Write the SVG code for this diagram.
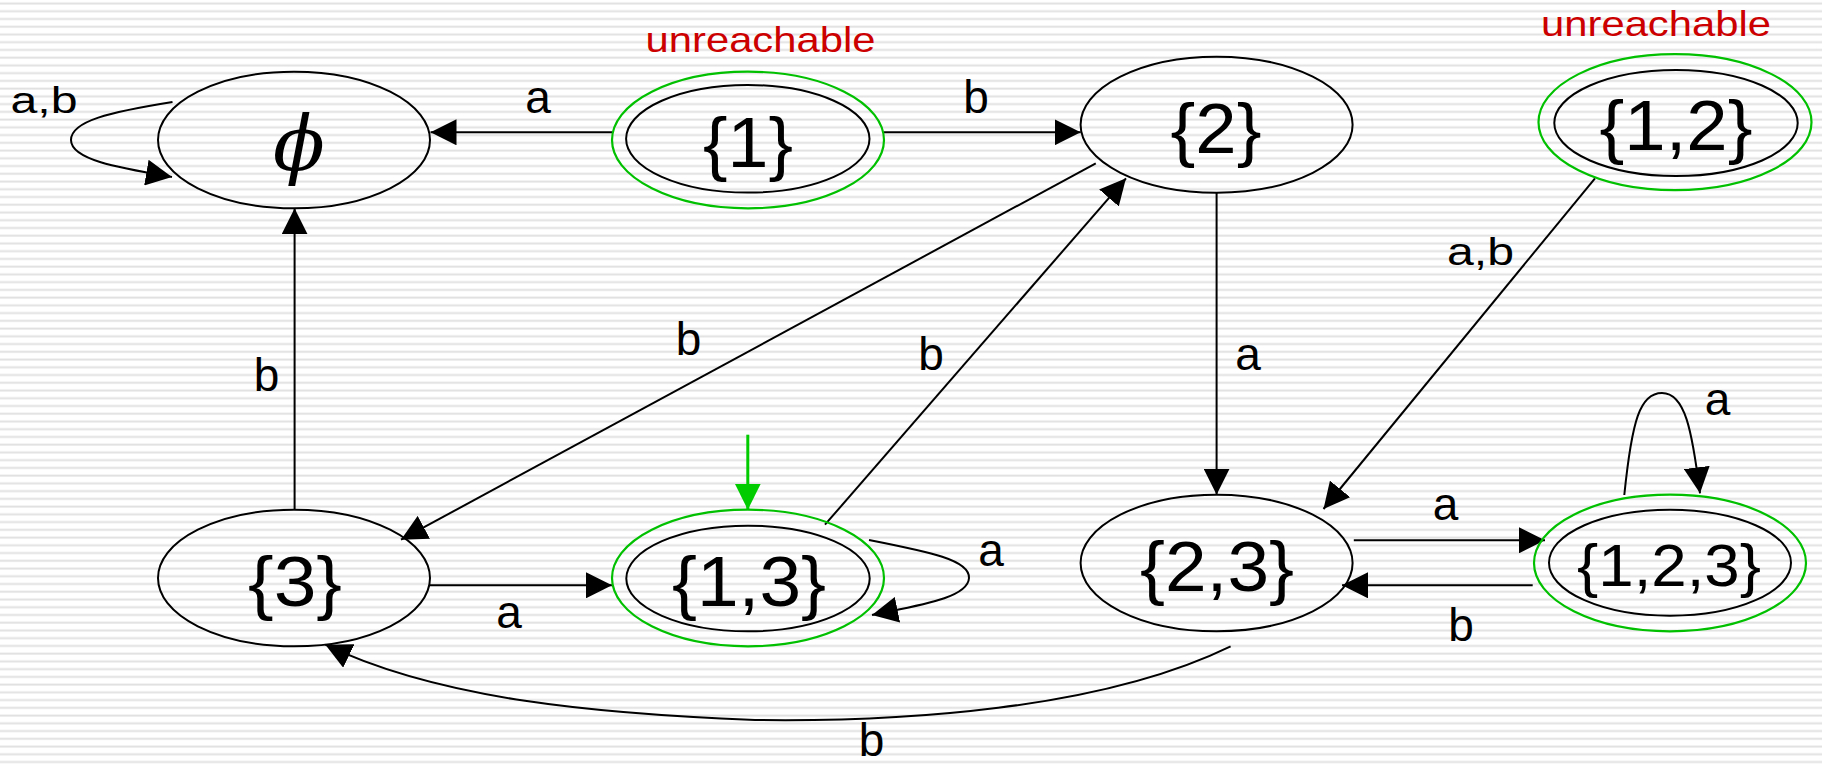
<svg xmlns="http://www.w3.org/2000/svg" width="1822" height="766" viewBox="0 0 1822 766">
<style>
.st{fill:none;stroke:#000;stroke-width:2}
.ac{fill:#fff;fill-opacity:0;stroke:#00c000;stroke-width:2.2}
.nl{font-family:"Liberation Sans",Arial,sans-serif;font-size:70px;fill:#000;text-anchor:middle}
.el{font-family:"Liberation Sans",Arial,sans-serif;font-size:46px;fill:#000;text-anchor:middle}
.ur{font-family:"Liberation Sans",Arial,sans-serif;font-size:35px;fill:#cc0000;text-anchor:middle}
.cn{fill:none;stroke:#000;stroke-width:2}
</style>
<defs>
<pattern id="stripes" patternUnits="userSpaceOnUse" x="0" y="0" width="20" height="7.74">
<rect x="0" y="0" width="20" height="7.74" fill="#ffffff"/>
<rect x="0" y="2.6" width="20" height="1.1" fill="#d9d9d9"/>
<rect x="0" y="3.7" width="20" height="1.1" fill="#ececec"/>
</pattern>
<marker id="ah" markerUnits="userSpaceOnUse" viewBox="0 0 26 26" markerWidth="26" markerHeight="26" refX="26" refY="13" orient="auto">
<path d="M0,0L26,13L0,26z" fill="#000"/>
</marker>
<marker id="ahg" markerUnits="userSpaceOnUse" viewBox="0 0 26 26" markerWidth="26" markerHeight="26" refX="26" refY="13" orient="auto">
<path d="M0,0L26,13L0,26z" fill="#00cc00"/>
</marker>
</defs>
<rect x="0" y="0" width="1822" height="766" fill="url(#stripes)"/>

<g id="connectors">
<path class="cn" d="M172.5,102 C110,112 71,121 71,140 C71,160 120,168 172,177" marker-end="url(#ah)"/>
<path class="cn" d="M612,132.3 L430.5,132.3" marker-end="url(#ah)"/>
<path class="cn" d="M884,132.3 L1080.7,132.3" marker-end="url(#ah)"/>
<path class="cn" d="M294.6,509.7 L294.6,208.3" marker-end="url(#ah)"/>
<path class="cn" d="M1095.8,163.3 L401,539.7" marker-end="url(#ah)"/>
<path class="cn" d="M825,524.7 L1126,178.3" marker-end="url(#ah)"/>
<path class="cn" d="M1216.6,192.7 L1216.6,494.7" marker-end="url(#ah)"/>
<path class="cn" d="M1595,178.3 L1323.5,509" marker-end="url(#ah)"/>
<path class="cn" d="M430,585.3 L612,585.3" marker-end="url(#ah)"/>
<path class="cn" d="M869,540 C930,552 970,560 969,578 C968,598 920,605 872,615" marker-end="url(#ah)"/>
<path class="cn" d="M1353.8,540.3 L1545,540.3" marker-end="url(#ah)"/>
<path class="cn" d="M1532.7,585.3 L1342,585.3" marker-end="url(#ah)"/>
<path class="cn" d="M1624.3,495 C1632,420 1640,393 1662,393 C1685,393 1692,430 1700,493.3" marker-end="url(#ah)"/>
<path class="cn" d="M1230.6,646.3 C1100,710 900,722 755,720 C600,714 440,700 325.4,644.7" marker-end="url(#ah)"/>
<path d="M747.8,434.7 L747.8,509.7" fill="none" stroke="#00cc00" stroke-width="3" marker-end="url(#ahg)"/>
<g id="edge-labels">
<text class="el" x="44" y="112.7" style="font-size:37px" textLength="67" lengthAdjust="spacingAndGlyphs">a,b</text>
<text class="el" x="538" y="113.3">a</text>
<text class="el" x="976" y="113">b</text>
<text class="el" x="266.5" y="391">b</text>
<text class="el" x="688.5" y="355">b</text>
<text class="el" x="931" y="370">b</text>
<text class="el" x="1248" y="370">a</text>
<text class="el" x="1480.5" y="265" style="font-size:38px" textLength="67" lengthAdjust="spacingAndGlyphs">a,b</text>
<text class="el" x="509" y="628">a</text>
<text class="el" x="991" y="566">a</text>
<text class="el" x="1445.5" y="520">a</text>
<text class="el" x="1461" y="641">b</text>
<text class="el" x="1717.5" y="415">a</text>
<text class="el" x="871.5" y="756">b</text>
</g>
</g>

<g id="node-empty">
<ellipse class="st" cx="294" cy="140" rx="136" ry="68.3"/>
<text x="299" y="170" style="font-family:'DejaVu Serif',serif;font-style:italic;font-size:76px;text-anchor:middle">ϕ</text>
</g>
<g id="node-1">
<text class="ur" x="760.5" y="52.3" textLength="230" lengthAdjust="spacingAndGlyphs">unreachable</text>
<ellipse class="ac" cx="748" cy="140" rx="136" ry="68.3"/>
<ellipse class="st" cx="747.8" cy="138.8" rx="121.7" ry="53.8"/>
<text class="nl" x="748" y="167.3" textLength="90" lengthAdjust="spacingAndGlyphs">{1}</text>
</g>
<g id="node-2">
<ellipse class="st" cx="1216.6" cy="124.7" rx="136" ry="68"/>
<text class="nl" x="1216" y="153.3" textLength="91" lengthAdjust="spacingAndGlyphs">{2}</text>
</g>
<g id="node-12">
<text class="ur" x="1656" y="36" textLength="230" lengthAdjust="spacingAndGlyphs">unreachable</text>
<ellipse class="ac" cx="1675" cy="122.2" rx="136.5" ry="68"/>
<ellipse class="st" cx="1676" cy="123" rx="121.7" ry="53"/>
<text class="nl" x="1676" y="150" textLength="153" lengthAdjust="spacingAndGlyphs">{1,2}</text>
</g>
<g id="node-3">
<ellipse class="st" cx="294" cy="578" rx="136" ry="68.3"/>
<text class="nl" x="295" y="606" textLength="94" lengthAdjust="spacingAndGlyphs">{3}</text>
</g>
<g id="node-13">
<ellipse class="ac" cx="748" cy="578" rx="136" ry="68.3"/>
<ellipse class="st" cx="748" cy="578.5" rx="121.7" ry="52.8"/>
<text class="nl" x="749" y="606.3" textLength="154" lengthAdjust="spacingAndGlyphs">{1,3}</text>
</g>
<g id="node-23">
<ellipse class="st" cx="1216.6" cy="563" rx="136" ry="68.3"/>
<text class="nl" x="1217" y="591.3" textLength="154" lengthAdjust="spacingAndGlyphs">{2,3}</text>
</g>
<g id="node-123">
<ellipse class="ac" cx="1670" cy="563" rx="136" ry="68.3"/>
<ellipse class="st" cx="1670" cy="562.7" rx="121" ry="53"/>
<text class="nl" x="1669" y="586.3" style="font-size:60px" textLength="184" lengthAdjust="spacingAndGlyphs">{1,2,3}</text>
</g>
</svg>
